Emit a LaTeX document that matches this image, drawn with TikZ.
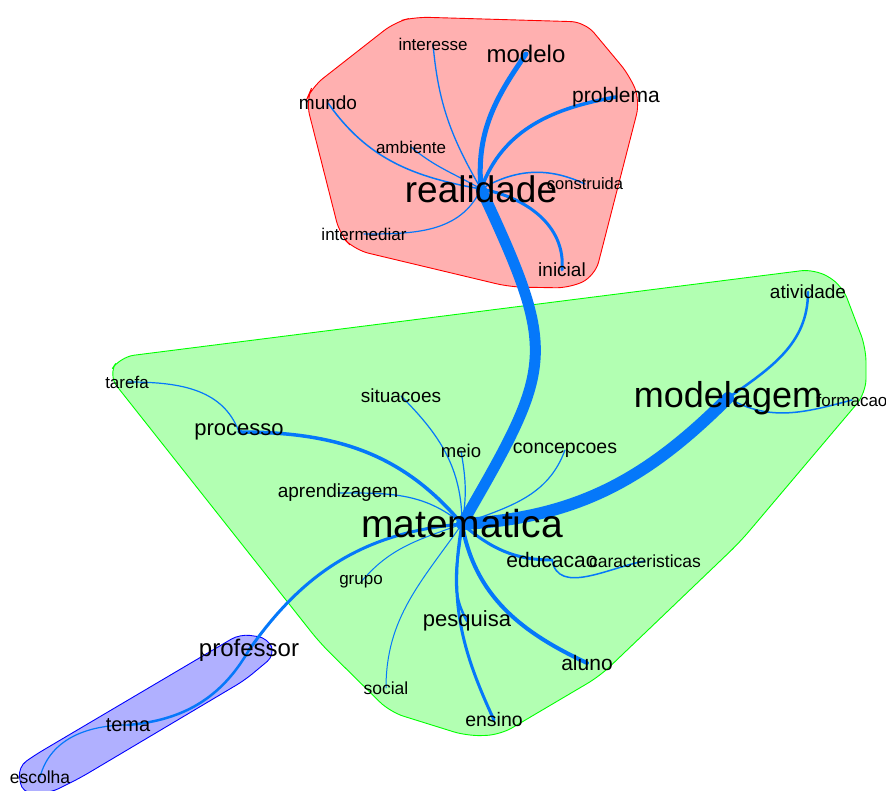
\documentclass[tikz,border=0pt]{standalone}
\usepackage{fontspec}
\setmainfont{Liberation Sans}
\pgfdeclarelayer{hulls}
\pgfdeclarelayer{links}
\pgfsetlayers{hulls,links,main}
\definecolor{lnblue}{RGB}{5,120,250}
\definecolor{redfill}{RGB}{255,176,176}
\definecolor{greenfill}{RGB}{178,255,178}
\definecolor{bluefill}{RGB}{176,176,255}

\begin{document}
\begin{tikzpicture}[x=1pt, y=1pt,
  wd/.style={inner sep=0pt, font=\fontsize{#1}{#1}\selectfont},
  ln/.style={draw=lnblue, line width=#1, line cap=round},
  hull/.style={line width=0.9pt, rounded corners=14pt}]

  \useasboundingbox (0,0) rectangle (886,791);

  % red group
  \node[wd=37]   (real)   at (481,602) {realidade};
  \node[wd=24]   (modelo) at (526,737) {modelo};
  \node[wd=21]   (probl)  at (616,694) {problema};
  \node[wd=16.5] (constr) at (585,607) {construida};
  \node[wd=19]   (inic)   at (562,521) {inicial};
  \node[wd=19]   (mundo)  at (328,688) {mundo};
  \node[wd=17]   (inter)  at (433,747) {interesse};
  \node[wd=17]   (ambi)   at (411,644) {ambiente};
  \node[wd=17]   (interm) at (364,557) {intermediar};

  % green group
  \node[wd=39]   (mat)    at (462,267) {matematica};
  \node[wd=36]   (mlg)    at (728,393) {modelagem};
  \node[wd=19]   (ativ)   at (808,499) {atividade};
  \node[wd=17]   (form)   at (852,391) {formacao};
  \node[wd=22]   (proc)   at (239,359) {processo};
  \node[wd=17]   (taref)  at (127,409) {tarefa};
  \node[wd=19]   (situ)   at (401,395) {situacoes};
  \node[wd=18.5] (meio)   at (461,340) {meio};
  \node[wd=19.5] (conc)   at (565,341) {concepcoes};
  \node[wd=19]   (apren)  at (338,298) {aprendizagem};
  \node[wd=21]   (educ)   at (552,231) {educacao};
  \node[wd=17.5] (carac)  at (645,230) {caracteristicas};
  \node[wd=17]   (grupo)  at (361,209) {grupo};
  \node[wd=17.5] (social) at (386,103) {social};
  \node[wd=22]   (pesq)   at (467,170) {pesquisa};
  \node[wd=19.5] (ensino) at (494,71)  {ensino};
  \node[wd=21]   (aluno)  at (587,128) {aluno};

  % blue group
  \node[wd=24]   (prof)   at (249,141) {professor};
  \node[wd=20]   (tema)   at (128,66)  {tema};
  \node[wd=17.5] (escol)  at (40,14)   {escolha};

  \begin{pgfonlayer}{hulls}
    \draw[hull, draw=red, fill=redfill]
      (306,690) -- (312,704) -- (395,769) -- (415,774) -- (585,769)
      -- (630,715) -- (640,690) -- (595,515) -- (570,503) -- (510,504)
      -- (355,541) -- (340,556) -- cycle;
    \draw[hull, draw=green, fill=greenfill]
      (108,416) -- (120,434) -- (815,522) -- (842,506) -- (866,443)
      -- (866,398) -- (740,249) -- (600,115) -- (500,56) -- (467,55)
      -- (390,79) -- (320,148) -- cycle;
    \draw[hull, draw=blue, fill=bluefill, rounded corners=10pt]
      (18,24) -- (35,36) -- (240,157) -- (268,153) -- (275,136)
      -- (245,111) -- (80,13) -- (50,-2) -- (22,-2) -- cycle;
  \end{pgfonlayer}

  \begin{pgfonlayer}{links}
    \draw[ln=11]  (real.center) to[out=-65, in=60, looseness=1.4] (mat.center);
    \draw[ln=12]  (mat.center) to[out=3, in=225] (mlg.center);

    \draw[ln=5]   (real.center) to[out=95, in=235] (modelo.center);
    \draw[ln=3.5] (real.center) to[out=70, in=190] (probl.center);
    \draw[ln=1.5] (real.center) to[out=30, in=155] (constr.center);
    \draw[ln=3]   (real.center) to[out=-10, in=85] (inic.center);
    \draw[ln=1.5] (real.center) to[out=170, in=-55] (mundo.center);
    \draw[ln=1.3] (real.center) to[out=120, in=-85] (inter.center);
    \draw[ln=1.2] (real.center) to[out=150, in=-40] (ambi.center);
    \draw[ln=1.2] (real.center) to[out=-115, in=0] (interm.center);

    \draw[ln=2.5] (mlg.center) to[out=35, in=-90] (ativ.center);
    \draw[ln=1.5] (mlg.center) to[out=-30, in=195] (form.center);

    \draw[ln=3.5] (mat.center) to[out=130, in=0] (proc.center);
    \draw[ln=1.2] (proc.center) to[out=110, in=0] (taref.center);
    \draw[ln=1.2] (mat.center) to[out=90, in=-45] (situ.center);
    \draw[ln=1.2] (mat.center) to[out=80, in=-80] (meio.center);
    \draw[ln=1.2] (mat.center) to[out=140, in=0] (apren.center);
    \draw[ln=1.2] (mat.center) to[out=20, in=-110] (conc.center);
    \draw[ln=3]   (mat.center) to[out=-40, in=180] (educ.center);
    \draw[ln=1.5] (educ.center) to[out=-80, in=190] (carac.center);
    \draw[ln=1]   (mat.center) to[out=200, in=50] (grupo.center);
    \draw[ln=1]   (mat.center) to[out=235, in=90] (social.center);
    \draw[ln=2.5] (mat.center) to[out=-95, in=120] (pesq.center);
    \draw[ln=3]   (mat.center) to[out=-100, in=115] (ensino.center);
    \draw[ln=4]   (mat.center) to[out=-80, in=155] (aluno.center);

    \draw[ln=3]   (mat.center) to[out=185, in=55] (prof.center);
    \draw[ln=2.5] (prof.center) to[out=-120, in=5] (tema.center);
    \draw[ln=1.2] (tema.center) to[out=180, in=75] (escol.center);
  \end{pgfonlayer}

\end{tikzpicture}
\end{document}
